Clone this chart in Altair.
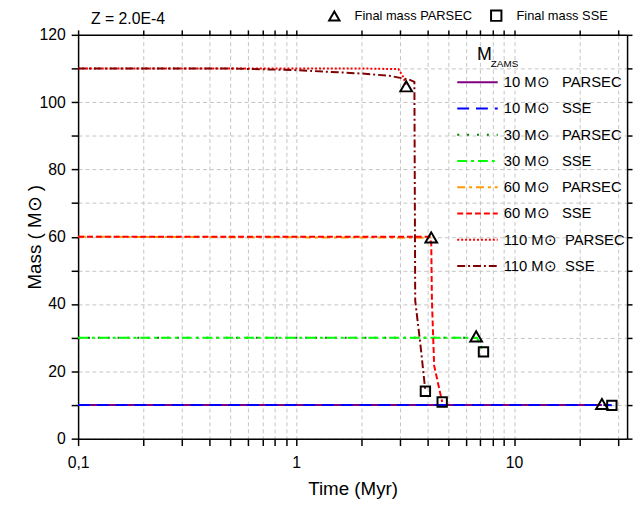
import altair as alt
import pandas as pd

# ---- data ----
NB = "\u00a0"
series_names = [
    "10 M⊙" + NB * 3 + "PARSEC", "10 M⊙" + NB * 3 + "SSE",
    "30 M⊙" + NB * 3 + "PARSEC", "30 M⊙" + NB * 3 + "SSE",
    "60 M⊙" + NB * 3 + "PARSEC", "60 M⊙" + NB * 3 + "SSE",
    "110 M⊙" + NB * 2 + "PARSEC", "110 M⊙" + NB * 2 + "SSE",
]
t_10P = [0.1, 25.3]
m_10P = [10.0, 10.0]
t_10S = [0.1, 27.0, 28.1]
m_10S = [10.0, 10.0, 9.9]
t_30P = [0.1, 6.7]
m_30P = [30.0, 30.0]
t_30S = [0.1, 6.75, 6.95, 7.24]
m_30S = [30.0, 30.0, 28.5, 25.8]
t_60P = [0.1, 4.17]
m_60P = [60.0, 59.7]
t_60S = [0.1, 4.1, 4.17, 4.2, 4.3, 4.68]
m_60S = [60.0, 60.0, 58.0, 41.0, 21.7, 10.9]
t_110P = [0.1, 2.0, 2.95, 3.1, 3.2]
m_110P = [110.0, 110.0, 109.8, 107.5, 105.0]
t_110S = [0.1, 0.5, 1.0, 2.0, 2.7, 3.3, 3.49, 3.52, 3.72, 3.92]
m_110S = [110.0, 110.0, 109.5, 108.5, 107.8, 106.7, 106.0, 41.0, 27.9, 14.1]

final_kinds = ["Final mass PARSEC", "Final mass SSE"]
fin_P_t = [25.3, 6.7, 4.17, 3.2]
fin_P_m = [10.3, 30.4, 59.8, 104.7]
fin_S_t = [28.1, 7.24, 4.68, 3.92]
fin_S_m = [9.9, 25.8, 10.9, 14.1]

x_ticks = [0.1, 0.2, 0.3, 0.4, 0.5, 0.6, 0.7, 0.8, 0.9,
           1, 2, 3, 4, 5, 6, 7, 8, 9, 10, 20, 30]
y_ticks = [0, 10, 20, 30, 40, 50, 60, 70, 80, 90, 100, 110, 120]

# ---- styles ----
colors = ["#800080", "#0000ff", "#008000", "#00ff00",
          "#ff9900", "#ff0000", "#ff0000", "#800000"]
dashes = [[1, 0], [12, 7], [2, 8], [10, 4, 3, 4],
          [8, 4, 3, 4], [6, 3], [2, 2], [8, 3, 2, 3]]

FONT = "Liberation Sans"

rows = []
for name, ts, ms in zip(series_names,
                        [t_10P, t_10S, t_30P, t_30S, t_60P, t_60S, t_110P, t_110S],
                        [m_10P, m_10S, m_30P, m_30S, m_60P, m_60S, m_110P, m_110S]):
    for i, (t, m) in enumerate(zip(ts, ms)):
        rows.append({"series": name, "t": t, "m": m, "idx": i})
df = pd.DataFrame(rows)

mk = pd.DataFrame(
    [{"kind": final_kinds[0], "t": t, "m": m} for t, m in zip(fin_P_t, fin_P_m)]
    + [{"kind": final_kinds[1], "t": t, "m": m} for t, m in zip(fin_S_t, fin_S_m)]
)

xscale = alt.Scale(type="log", domain=[0.1, 33], nice=False)
yscale = alt.Scale(domain=[0, 120], nice=False)

xaxis = alt.Axis(
    orient="bottom", values=x_ticks,
    labelExpr="datum.value == 0.1 ? '0,1' : (datum.value == 1 ? '1' : (datum.value == 10 ? '10' : ''))",
    title="Time (Myr)", grid=True, gridDash=[4, 3], gridColor="#c4c4c4",
    domainColor="black", domainWidth=1.5, tickColor="black", tickWidth=1.5, tickSize=7,
    labelFontSize=16, titleFontSize=19, labelFont=FONT, titleFont=FONT,
    titleFontWeight="normal", labelColor="black", titleColor="black",
    labelPadding=9, titlePadding=10, labelFlush=False, labelOverlap=False,
)
yaxis = alt.Axis(
    orient="left", values=y_ticks,
    labelExpr="datum.value % 20 == 0 ? datum.label : ''",
    title="Mass ( M⊙ )", grid=True, gridDash=[4, 3], gridColor="#c4c4c4",
    domainColor="black", domainWidth=1.5, tickColor="black", tickWidth=1.5, tickSize=7,
    labelFontSize=16, titleFontSize=19, labelFont=FONT, titleFont=FONT,
    titleFontWeight="normal", labelColor="black", titleColor="black",
    labelPadding=6, titlePadding=-6, labelOverlap=False,
)

leg = alt.Legend(
    title=None, orient="none", legendX=383, legendY=38,
    symbolType="stroke", symbolSize=1681, symbolStrokeWidth=2,
    labelFontSize=15, labelFont=FONT, labelColor="black", labelOffset=5,
    clipHeight=20, rowPadding=6.6, padding=0, labelLimit=300,
)

mirror = alt.Chart(mk).mark_point(opacity=0).encode(
    x=alt.X("t:Q", scale=xscale, axis=alt.Axis(orient="top", values=x_ticks, labels=False, title=None,
                                               grid=False, domainColor="black", domainWidth=1.5,
                                               tickColor="black", tickWidth=1.5, tickSize=5)),
    y=alt.Y("m:Q", scale=yscale, axis=alt.Axis(orient="right", values=y_ticks, labels=False, title=None,
                                               grid=False, domainColor="black", domainWidth=1.5,
                                               tickColor="black", tickWidth=1.5, tickSize=5)),
)

lines = alt.Chart(df).mark_line(strokeWidth=2).encode(
    x=alt.X("t:Q", scale=xscale, axis=xaxis),
    y=alt.Y("m:Q", scale=yscale, axis=yaxis),
    color=alt.Color("series:N", scale=alt.Scale(domain=series_names, range=colors), legend=leg),
    strokeDash=alt.StrokeDash("series:N", scale=alt.Scale(domain=series_names, range=dashes), legend=leg),
    order="idx:Q",
)

shape_enc = alt.Shape(
    "kind:N", scale=alt.Scale(domain=final_kinds, range=["triangle-up", "square"]),
    legend=alt.Legend(title=None, orient="none", legendX=253, legendY=-26,
                      direction="horizontal", symbolSize=110, symbolStrokeWidth=2,
                      symbolStrokeColor="black", symbolFillColor="transparent",
                      labelFontSize=13, labelFont=FONT,
                      labelColor="black", labelOffset=14, columnPadding=15,
                      padding=0, labelLimit=300))

tri = alt.Chart(mk).transform_filter(alt.datum.kind == final_kinds[0]).mark_point(
    filled=False, strokeWidth=2, color="black", opacity=1, size=140).encode(
    x=alt.X("t:Q", scale=xscale, axis=None),
    y=alt.Y("m:Q", scale=yscale, axis=None),
    shape=shape_enc,
)
sq = alt.Chart(mk).transform_filter(alt.datum.kind == final_kinds[1]).mark_point(
    filled=False, strokeWidth=2, color="black", opacity=1, size=90).encode(
    x=alt.X("t:Q", scale=xscale, axis=None),
    y=alt.Y("m:Q", scale=yscale, axis=None),
    shape=shape_enc,
)

ann_df = pd.DataFrame({"a": [0]})
ztext = alt.Chart(ann_df).mark_text(text="Z = 2.0E-4", align="left", baseline="middle",
                                    fontSize=16, font=FONT, color="black").encode(
    x=alt.value(13), y=alt.value(-16))
mtext = alt.Chart(ann_df).mark_text(text="M", align="left", baseline="middle",
                                    fontSize=18, font=FONT, color="black").encode(
    x=alt.value(404), y=alt.value(21))
ztxt2 = alt.Chart(ann_df).mark_text(text="ZAMS", align="left", baseline="middle",
                                    fontSize=10, font=FONT, color="black").encode(
    x=alt.value(418), y=alt.value(30))

chart = alt.layer(lines, mirror, tri, sq, ztext, mtext, ztxt2).resolve_axis(
    x="independent", y="independent"
).properties(
    width=556, height=409,
    autosize=alt.AutoSizeParams(type="none"),
    padding={"left": 71, "top": 24, "right": 6, "bottom": 62},
    background="white",
).configure_view(stroke=None)

chart.save("out.html", embed_options={"renderer": "svg", "actions": False})
